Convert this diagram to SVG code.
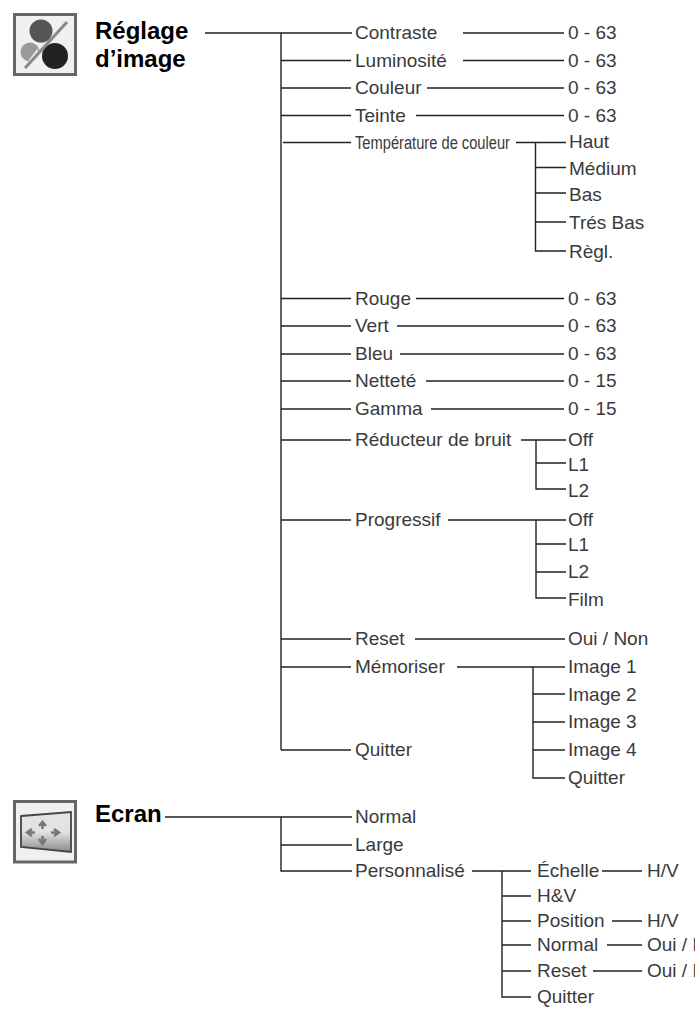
<svg xmlns="http://www.w3.org/2000/svg" width="695" height="1014" viewBox="0 0 695 1014">
<style>
text{font-family:"Liberation Sans",Arial,sans-serif;font-size:19px;fill:#3a3a3a}
.h{font-weight:700;font-size:24px;fill:#000}
.c{font-size:18px}
#connectors path{fill:none;stroke:#222;stroke-width:1.4}
.f{fill:#f0f0f0;stroke:#666;stroke-width:3}
</style>
<defs>
<linearGradient id="g" x1="0" y1="0" x2="0" y2="1"><stop offset="0" stop-color="#e4e4e4"/><stop offset=".5" stop-color="#e2e2e2"/><stop offset="1" stop-color="#8a8a8a"/></linearGradient>
<filter id="b"><feGaussianBlur stdDeviation=".7"/></filter>
</defs>
<g id="connectors">
<path d="M205 33H352M281 33V750M281 60.500H351M281 88H351M281 115.500H351M283 142.500H351M281 298.500H351M281 326H351M281 354H351M281 381H351M281 409H351M281 440H351M281 520H351M281 639H351M281 667H351M281 750H351"/>
<path d="M463 33H564M463 60.500H564M427 88H564M416 115.500H564"/>
<path d="M516 142.500H566M535.500 142.500V251H566M535.500 167.500H566M535.500 193H566M535.500 222H566"/>
<path d="M416 298.500H564M397 326H564M400 354H564M426 381H564M431 409H564"/>
<path d="M521 440H566M536 440V489H566M536 463H566"/>
<path d="M448 520H566M536 520V598H566M536 544H566M536 572H566"/>
<path d="M415 639H565M457 667H565M533 667V778H565M533 694H565M533 722H565M533 750H565"/>
<path d="M165 817H352M281 817V871H352M281 845H352"/>
<path d="M472 871H531M502 871V997H531M502 896H531M502 921H531M502 945H531M502 971H531"/>
<path d="M602 871H642M612 921H642M607 945H642M593 971H642"/>
</g>
<g id="icon-image">
<rect class="f" x="14.500" y="14.500" width="61" height="60"/>
<g filter="url(#b)">
<circle cx="41" cy="31" r="11.500" fill="#555"/>
<circle cx="30" cy="52" r="9.500" fill="#999"/>
<circle cx="55" cy="56" r="13" fill="#222"/>
<path d="M24 69L38 55L37 52Z" fill="#eee" stroke="#eee" stroke-width="3"/>
<path d="M25 68L67 22" stroke="#888" stroke-width="3"/>
</g>
</g>
<g id="icon-ecran">
<rect class="f" x="14.500" y="801.500" width="61" height="60.500"/>
<g filter="url(#b)">
<path d="M21 816L71 812V852L21 847Z" fill="url(#g)" stroke="#444" stroke-width="1.800"/>
<path d="M39 826L42.500 822L46 826M42.500 822V829M39 839L42.500 844L46 839M42.500 844V836M32 829L27 832.500L32 836M27 832.500H35M54 829L59 832.500L54 836M59 832.500H51" fill="none" stroke="#777" stroke-width="2.500"/>
</g>
</g>
<g id="title-image"><text class="h" x="95" y="38.500">Réglage</text><text class="h" x="95" y="66.500">d’image</text></g>
<g id="title-ecran"><text class="h" x="95" y="822">Ecran</text></g>
<g id="level-1">
<text x="355" y="39">Contraste</text>
<text x="355" y="66.500">Luminosité</text>
<text x="355" y="93.500">Couleur</text>
<text x="355" y="121.500">Teinte</text>
<text class="c" x="355" y="148.500" textLength="155" lengthAdjust="spacingAndGlyphs">Température de couleur</text>
<text x="355" y="304.500">Rouge</text>
<text x="355" y="332">Vert</text>
<text x="355" y="360">Bleu</text>
<text x="355" y="387">Netteté</text>
<text x="355" y="415">Gamma</text>
<text x="355" y="446">Réducteur de bruit</text>
<text x="355" y="526">Progressif</text>
<text x="355" y="645">Reset</text>
<text x="355" y="673">Mémoriser</text>
<text x="355" y="756">Quitter</text>
<text x="355" y="823">Normal</text>
<text x="355" y="850.500">Large</text>
<text x="355" y="877">Personnalisé</text>
</g>
<g id="level-2">
<text x="568" y="39">0 - 63</text><text x="568" y="66.500">0 - 63</text><text x="568" y="93.500">0 - 63</text><text x="568" y="121.500">0 - 63</text>
<text x="569" y="148">Haut</text><text x="569" y="174.500">Médium</text><text x="569" y="200.500">Bas</text><text x="569" y="228.500">Trés Bas</text><text x="569" y="257.500">Règl.</text>
<text x="568" y="304.500">0 - 63</text><text x="568" y="332">0 - 63</text><text x="568" y="360">0 - 63</text><text x="568" y="387">0 - 15</text><text x="568" y="415">0 - 15</text>
<text x="568" y="446">Off</text><text x="568" y="470.500">L1</text><text x="568" y="496.500">L2</text>
<text x="568" y="526">Off</text><text x="568" y="550.500">L1</text><text x="568" y="578">L2</text><text x="568" y="605.500">Film</text>
<text x="568" y="645">Oui / Non</text><text x="568" y="673">Image 1</text><text x="568" y="700.500">Image 2</text><text x="568" y="728">Image 3</text><text x="568" y="756">Image 4</text><text x="568" y="784">Quitter</text>
<text x="537" y="877">Échelle</text><text x="537" y="902">H&amp;V</text><text x="537" y="927">Position</text><text x="537" y="951">Normal</text><text x="537" y="977">Reset</text><text x="537" y="1003">Quitter</text>
</g>
<g id="level-3">
<text x="647" y="877">H/V</text><text x="647" y="927">H/V</text><text x="647" y="951">Oui / Non</text><text x="647" y="977">Oui / Non</text>
</g>
</svg>
